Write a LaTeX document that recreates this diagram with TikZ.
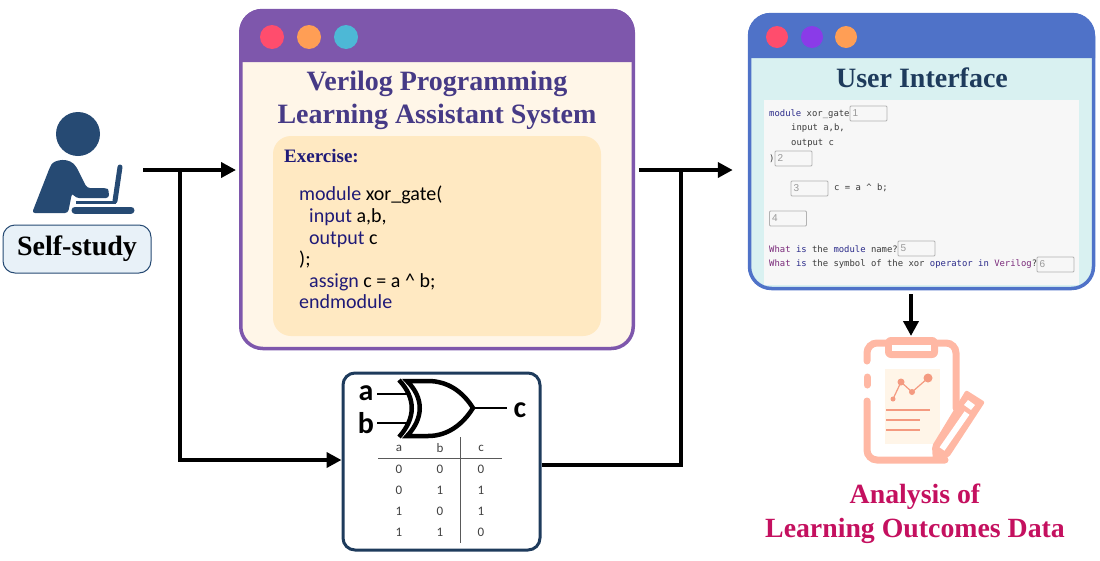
\documentclass[tikz,border=0pt]{standalone}
\usepackage{fontspec}
\setmainfont{Liberation Serif}
\newfontfamily\carlitofont{Carlito}
\newfontfamily\uimono{DejaVu Sans Mono}
\newfontfamily\uisans{Liberation Sans}
\usetikzlibrary{matrix,positioning,arrows.meta}
\definecolor{tutorpurple}{HTML}{7E57AC}
\definecolor{tutorcream}{HTML}{FFF6E8}
\definecolor{tutorpane}{HTML}{FFE9C2}
\definecolor{tutorink}{HTML}{463A86}
\definecolor{codeink}{HTML}{1F1A78}
\definecolor{uiblue}{HTML}{4F72C8}
\definecolor{uicyan}{HTML}{D9F1F1}
\definecolor{uipanel}{HTML}{F7F7F7}
\definecolor{uikey}{HTML}{2B2B8A}
\definecolor{uimagenta}{HTML}{7A2A7A}
\definecolor{uitext}{HTML}{3C3C3C}
\definecolor{userblue}{HTML}{264A73}
\definecolor{studyfill}{HTML}{E8F1F8}
\definecolor{peach}{HTML}{FFB8A4}
\definecolor{peachdark}{HTML}{F49A80}
\definecolor{paper}{HTML}{FFF5E8}
\definecolor{dotred}{HTML}{FF4D6D}
\definecolor{dotorange}{HTML}{FF9E55}
\definecolor{dotcyan}{HTML}{4DB8D6}
\definecolor{dotviolet}{HTML}{8A3BE8}
\definecolor{outcome}{HTML}{C4105F}
\newcommand{\fsz}[2]{\fontsize{#1}{#2}\selectfont}
\newcommand{\kw}[1]{\textcolor{codeink}{#1}}
\newcommand{\uk}[1]{\textcolor{uikey}{#1}}
\newcommand{\um}[1]{\textcolor{uimagenta}{#1}}
\begin{document}
\begin{tikzpicture}[x=1pt,y=-1pt,
    flow/.style={line width=4.5pt},
    flowarrow/.style={flow,-{Triangle[length=15pt,width=15pt]}},
    winbox/.style={draw,line width=3.5pt,rounded corners=22pt,inner sep=0pt},
    windot/.style={circle,inner sep=0pt,minimum size=24pt},
    title/.style={font=\bfseries\fsz{28}{33},align=center,inner sep=0pt},
    uiline/.style={font=\uimono\fsz{8.9}{10},text=uitext,anchor=west,inner sep=0pt},
    inbox/.style={draw=gray!60,line width=0.8pt,rounded corners=1pt,minimum width=37pt,
      minimum height=15pt,text width=32pt,inner sep=2pt,align=left,
      font=\uisans\fsz{10}{10},text=gray!80},
    pmat/.style={matrix of nodes,inner sep=0pt,
      nodes={minimum width=41pt,minimum height=21pt,anchor=center,inner sep=0pt,
        font=\carlitofont\fsz{13}{13},text=black!75},
      column sep=0pt,row sep=0pt},
    gatelabel/.style={inner sep=0pt,font=\carlitofont\bfseries\fsz{30}{30}},
    clipline/.style={peach,line width=7pt,line cap=round}]
 \useasboundingbox (0,0) rectangle (1100,560);
 % learner
 \fill[userblue] (78,134) circle (22);
 \fill[userblue,rounded corners=3pt] (32,213) -- (50,167)
   .. controls (54,160) and (70,156) .. (78,170) -- (87,188) -- (105,188)
   .. controls (108,189) and (109,192) .. (109,198) -- (76,198) -- (72,193) -- (68,213) -- cycle;
 \draw[userblue,line width=5pt,line cap=round] (120,167) -- (115,201);
 \draw[userblue,line width=3pt] (76,202) -- (116,202);
 \draw[userblue,line width=7pt,line cap=round] (75,210) -- (131,210);
 \node[draw=userblue,line width=1pt,fill=studyfill,rounded corners=12pt,minimum width=148pt,minimum height=48pt,
   inner sep=0pt,font=\bfseries\fsz{28}{28}] (study) at (77,249) {Self-study};
 % tutor window
 \node[winbox,draw=tutorpurple,fill=tutorcream,minimum width=392.5pt,minimum height=338pt] (tutor) at (437,179.5) {};
 \fill[tutorpurple] (239.5,62) [rounded corners=22pt] -- (239.5,9) -- (634.5,9) [sharp corners] -- (634.5,62) -- cycle;
 \foreach \X/\C in {272/dotred,309/dotorange,346/dotcyan}
   \node[windot,fill=\C] (tutordot\X) at (\X,37) {};
 \node[title,text=tutorink] (tutortitle) at (437,100) {Verilog Programming\\[0pt]Learning Assistant System};
 \node[fill=tutorpane,rounded corners=18pt,minimum width=328pt,minimum height=200pt,inner sep=0pt] (tutorpane) at (437,236) {};
 \node[anchor=west,inner sep=0pt,text=codeink,font=\bfseries\fsz{19}{19}] (exercise) at (284,156) {Exercise:};
 \node[anchor=north west,inner sep=0pt,align=left,font=\carlitofont\fsz{20}{21.6}] (tutorcode) at (299,186)
  {\kw{module} xor\_gate(\\
   \hspace{10pt}\kw{input} a,b,\\
   \hspace{10pt}\kw{output} c\\
   );\\
   \hspace{10pt}\kw{assign} c = a \textasciicircum{} b;\\
   \kw{endmodule}};
 % interface window
 \node[winbox,draw=uiblue,fill=uicyan,minimum width=344pt,minimum height=274pt] (ui) at (921.5,151.5) {};
 \fill[uiblue] (748,58) [rounded corners=22pt] -- (748,13) -- (1095,13) [sharp corners] -- (1095,58) -- cycle;
 \foreach \X/\C in {777/dotred,812/dotviolet,846/dotorange}
   \node[windot,minimum size=22pt,fill=\C] (uidot\X) at (\X,37) {};
 \node[title,text=userblue!80!black] (uititle) at (922,78) {User Interface};
 \node[fill=uipanel,minimum width=315pt,minimum height=185pt,inner sep=0pt] (uipanel) at (921.5,192.5) {};
 \node[uiline] (uil1) at (769,114) {\uk{module} xor\_gate};
 \node[uiline] (uil2) at (791,128.5) {input a,b,};
 \node[uiline] (uil3) at (791,143) {output c};
 \node[uiline] (uil4) at (769,159) {)};
 \node[uiline] (uil5) at (834,188) {c = a \textasciicircum{} b;};
 \node[uiline] (uil6) at (769,249) {\um{What} \uk{is} the \uk{module} name?};
 \node[uiline] (uil7) at (769,264.5) {\um{What} \uk{is} the symbol of the xor \uk{operator} \uk{in} \um{Verilog}?};
 \foreach \T/\X/\Y in {1/868.5/113.5,2/793.5/158.5,3/809.5/188.5,4/788/218.5,5/916.5/248.5,6/1055.5/264.5}
   \node[inbox] (inbox\T) at (\X,\Y) {\T};
 % xor gate and truth table
 \node[draw=userblue!80!black,line width=3pt,rounded corners=12pt,minimum width=197pt,minimum height=177pt,inner sep=0pt] (logic) at (441.5,461.5) {};
 \draw[line width=2.5pt] (377,394) -- (409,394) (377,423) -- (409,423);
 \draw[line width=4.5pt] (399,380) .. controls (416,398) and (416,418) .. (399,437);
 \draw[line width=4.5pt] (407,381) .. controls (424,398) and (424,418) .. (407,436)
   -- (428,436) .. controls (448,436) and (463,424) .. (473,408)
   .. controls (463,392) and (448,381) .. (428,381) -- cycle;
 \node[gatelabel] (ina) at (366,393) {a};
 \node[gatelabel] (inb) at (366,423) {b};
 \node[gatelabel] (outc) at (520,410) {c};
 \coordinate (gatetip) at (473,408);
 \draw[line width=2.5pt,shorten >=7pt] (gatetip) -- (gatetip -| outc.west);
 \node[pmat] (truth) at (440,490)
  {a & b & c\\ 0 & 0 & 0\\ 0 & 1 & 1\\ 1 & 0 & 1\\ 1 & 1 & 0\\};
 \draw[black!65,line width=0.8pt] (truth-1-1.south west) -- (truth-1-3.south east);
 \draw[black!65,line width=0.8pt] (truth-1-2.north east) -- (truth-5-2.south east);
 % analysis clipboard
 \node[fill=paper,minimum width=55pt,minimum height=75pt,inner sep=0pt] (paper) at (912.5,406) {};
 \draw[clipline] (867,361) -- (867,354) [rounded corners=10pt] -- (867,343) -- (956,343) [sharp corners] -- (956,408);
 \draw[clipline] (867,377) -- (867,385);
 \draw[clipline] (867,401) [rounded corners=10pt] -- (867,460) [sharp corners] -- (945,460);
 \fill[peach,rounded corners=6pt] (885,337) rectangle (938,358);
 \fill[white] (892,345) rectangle (931,351);
 \draw[peachdark,line width=1.2pt] (893,399) -- (901,382) -- (912,392) -- (928,378);
 \foreach \X/\Y/\R in {893/399/2.5,901/382/3.5,912/392/3,928/378/4.5}
   \fill[peachdark] (\X,\Y) circle (\R);
 \foreach \Y/\E in {410/930,420/920,430/920}
   \draw[peachdark,line width=2pt] (886,\Y) -- (\E,\Y);
 \fill[peach,rounded corners=2pt] (966,390) -- (985,402) -- (949,457) -- (933,463) -- (932,446) -- cycle;
 \draw[white,line width=6pt] (967,413) -- (942,449);
 \fill[white] (968,400) -- (975,405) -- (971,410) -- (964,405) -- cycle;
 \node[title,text=outcome,font=\bfseries\fsz{27.8}{34}] (outcomes) at (915,514) {Analysis of\\Learning Outcomes Data};
 % connectors
 \coordinate (studyout) at (143,170);
 \coordinate (studyfork) at (180,170);
 \coordinate (tutorout) at (639,170);
 \coordinate (uifork) at (681,170);
 \coordinate (logicin) at (logic.west |- 0,460);
 \coordinate (logicout) at (logic.east |- 0,465);
 \coordinate (clipboard) at (911,336);
 \draw[flowarrow,shorten >=3pt] (studyout) -- (studyout -| tutor.west);
 \draw[flowarrow] (studyfork) |- (logicin);
 \draw[flowarrow,shorten >=15pt] (tutorout) -- (tutorout -| ui.west);
 \draw[flow] (logicout) -| (uifork);
 \draw[flowarrow] (ui.south -| clipboard) ++(0,4) -- (clipboard);
\end{tikzpicture}
\end{document}
